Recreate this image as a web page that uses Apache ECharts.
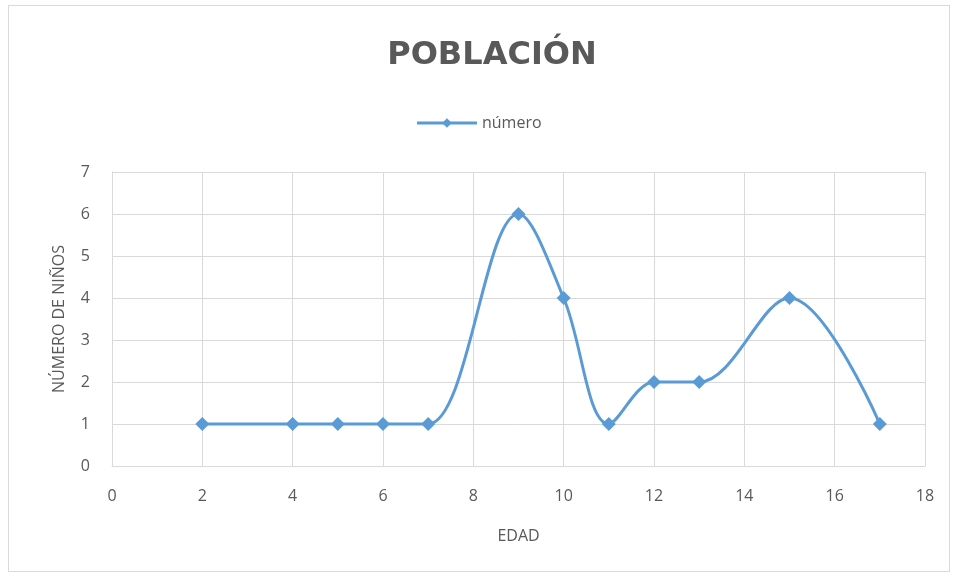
<!DOCTYPE html>
<html><head><meta charset="utf-8">
<script src="https://cdn.jsdelivr.net/npm/echarts@6/dist/echarts.min.js"></script>
<style>html,body{margin:0;padding:0;background:#fff}#c{width:957px;height:579px}
#frame{position:absolute;left:8px;top:5px;width:942px;height:567px;border:1px solid #d9d9d9;box-sizing:border-box;pointer-events:none}</style>
</head><body><div id="c"></div><div id="frame"></div>
<script>
const ages = [2, 4, 5, 6, 7, 9, 10, 11, 12, 13, 15, 17];
const counts = [1, 1, 1, 1, 1, 6, 4, 1, 2, 2, 4, 1];
const xTicks = [0, 2, 4, 6, 8, 10, 12, 14, 16, 18];
const yTicks = [0, 1, 2, 3, 4, 5, 6, 7];
const titleText = 'POBLACIÓN';
const seriesName = 'número';
const xName = 'EDAD';
const yName = 'NÚMERO DE NIÑOS';

const chart = echarts.init(document.getElementById('c'));
const txt = '#595959', grid = '#d9d9d9', font = 'Open Sans, Calibri, sans-serif';
chart.setOption({
  animation: false,
  title: { text: titleText, left: 487, top: 35, textAlign: 'center',
    textStyle: { fontFamily: 'DejaVu Sans', fontSize: 32, fontWeight: 'bold', color: txt } },
  legend: { top: 110, left: 'center', itemWidth: 60, itemHeight: 12, itemGap: 6,
    textStyle: { fontFamily: font, fontSize: 16, color: txt },
    data: [{ name: seriesName, itemStyle: { color: '#5B9BD5' }, lineStyle: { width: 3 } }] },
  grid: { left: 112, right: 32, top: 172, bottom: 113 },
  xAxis: { type: 'value', min: 0, max: 18, interval: 2,
    name: xName, nameLocation: 'middle', nameGap: 62,
    nameTextStyle: { fontFamily: font, fontSize: 16, color: txt },
    axisLine: { lineStyle: { color: grid } }, axisTick: { show: false },
    axisLabel: { fontFamily: font, fontSize: 16, color: txt, margin: 22 },
    splitLine: { lineStyle: { color: grid } } },
  yAxis: { type: 'value', min: 0, max: 7, interval: 1,
    name: yName, nameLocation: 'middle', nameGap: 45, nameRotate: 90,
    nameTextStyle: { fontFamily: font, fontSize: 16, color: txt },
    axisLine: { show: true, lineStyle: { color: grid } }, axisTick: { show: false },
    axisLabel: { fontFamily: font, fontSize: 16, color: txt, margin: 22 },
    splitLine: { lineStyle: { color: grid } } },
  series: [{ name: seriesName, type: 'line', smooth: 0.35,
    data: ages.map((a, i) => [a, counts[i]]),
    symbol: 'diamond', symbolSize: 14,
    lineStyle: { color: '#5B9BD5', width: 3 },
    itemStyle: { color: '#5B9BD5' } }]
});
</script></body></html>
